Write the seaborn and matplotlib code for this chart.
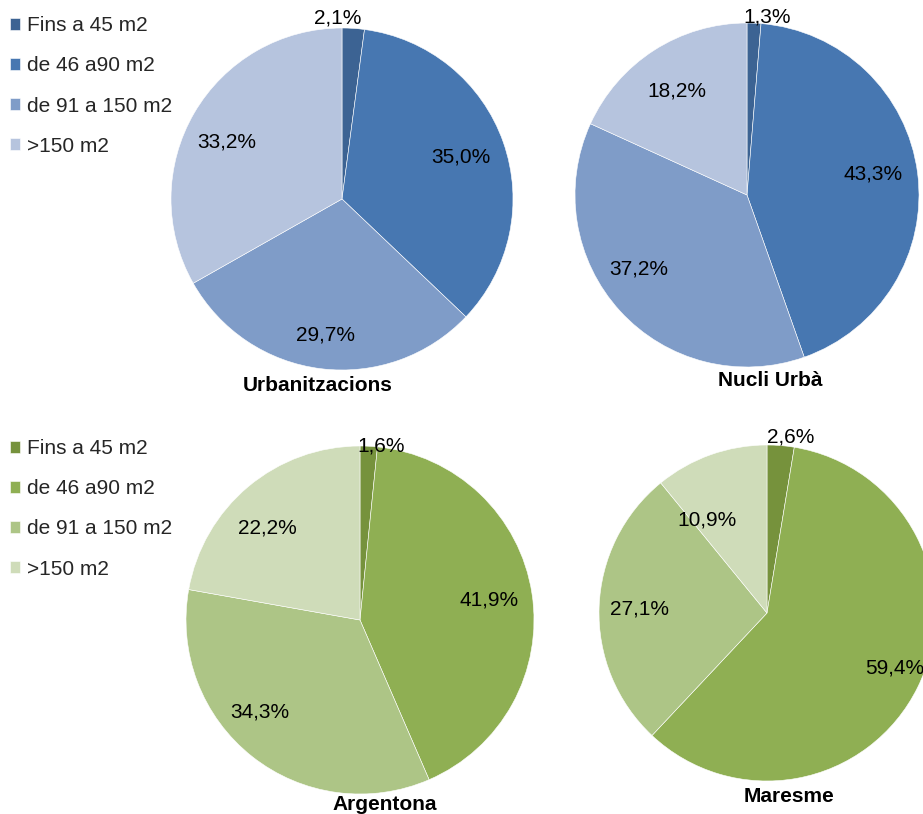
import matplotlib
matplotlib.use("Agg")
import matplotlib.pyplot as plt
import numpy as np
import seaborn as sns

# Dwelling size categories and share (%) per area
categories = ["Fins a 45 m2", "de 46 a90 m2", "de 91 a 150 m2", ">150 m2"]
areas = ["Urbanitzacions", "Nucli Urbà", "Argentona", "Maresme"]
urbanitzacions = [2.1, 35.0, 29.7, 33.2]
nucli_urba = [1.3, 43.3, 37.2, 18.2]
argentona = [1.6, 41.9, 34.3, 22.2]
maresme = [2.6, 59.4, 27.1, 10.9]

sns.set_theme(style="white")
plt.rcParams["font.family"] = ["Liberation Sans", "DejaVu Sans"]

blues = ["#3C6393", "#4777B1", "#7F9CC8", "#B6C4DE"]
greens = ["#76923C", "#8FAF53", "#ADC586", "#CFDCB9"]

W, H = 923, 814
fig = plt.figure(figsize=(W / 100, H / 100), dpi=100)

# pixel layout: centre x, centre y (from top), radius
layout = [
    (342, 199, 171),
    (747, 195, 172),
    (360, 620, 174),
    (767, 613, 168),
]
# label placement: radial distance (fraction of radius) and angle shift (deg)
label_dist = [
    [1.06, 0.74, 0.80, 0.75],
    [1.04, 0.74, 0.76, 0.73],
    [1.01, 0.75, 0.78, 0.75],
    [1.06, 0.83, 0.76, 0.66],
]
label_shift = [
    [5, 0, 0, 4],
    [-4, 2, -8, 1],
    [-4, 0, -9, 5],
    [-3, 3, 0, 13],
]
title_pos = [(318, 385), (770, 380), (385, 805), (789, 796)]

series = [urbanitzacions, nucli_urba, argentona, maresme]
palettes = [blues, blues, greens, greens]
wedge_sets = []

for i, (vals, pal) in enumerate(zip(series, palettes)):
    cx, cy, r = layout[i]
    ax = fig.add_axes([(cx - r) / W, (H - (cy + r)) / H, 2 * r / W, 2 * r / H])
    wedges, _ = ax.pie(vals, colors=pal, startangle=90, counterclock=False,
                       radius=1, wedgeprops=dict(edgecolor="white", linewidth=0.4))
    ax.set_xlim(-1, 1)
    ax.set_ylim(-1, 1)
    ax.set_aspect("equal")
    ax.axis("off")
    for j, (w, v) in enumerate(zip(wedges, vals)):
        ang = np.deg2rad((w.theta1 + w.theta2) / 2 + label_shift[i][j])
        d = label_dist[i][j]
        ax.text(d * np.cos(ang), d * np.sin(ang), f"{v:.1f}%".replace(".", ","),
                ha="center", va="center", fontsize=15, color="black", clip_on=False)
    tx, ty = title_pos[i]
    fig.text(tx / W, 1 - ty / H, areas[i], ha="center", va="center",
             fontsize=15, fontweight="bold", color="black")
    wedge_sets.append(wedges)

for wedges, top in [(wedge_sets[0], 16), (wedge_sets[2], 439)]:
    fig.legend(handles=wedges, labels=categories, loc="upper left",
               bbox_to_anchor=(10 / W, 1 - top / H), frameon=False, fontsize=15,
               handlelength=0.5, handleheight=0.5, handletextpad=0.3,
               labelspacing=1.02, borderpad=0, borderaxespad=0)

fig.savefig("out.png", dpi=100)
